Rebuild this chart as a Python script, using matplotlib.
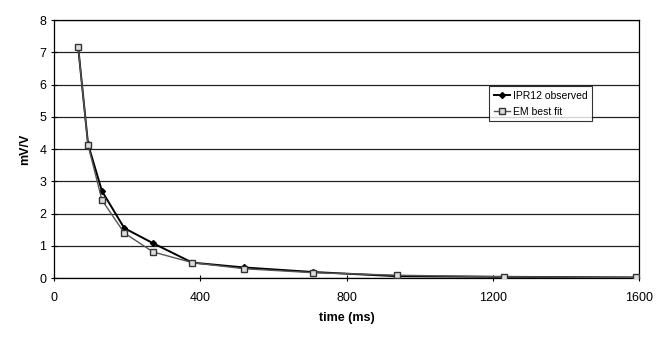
import matplotlib.pyplot as plt

plt.rcParams['font.family'] = ['Liberation Sans', 'DejaVu Sans']

# values
time_ms = [66, 93, 131, 192, 271, 378, 520, 707, 937, 1230, 1592]
observed = [7.16, 4.15, 2.70, 1.55, 1.08, 0.48, 0.33, 0.19, 0.06, 0.04, 0.02]
best_fit = [7.16, 4.12, 2.42, 1.40, 0.81, 0.48, 0.29, 0.17, 0.09, 0.04, 0.02]

fig = plt.figure(figsize=(6.59, 3.4), dpi=100)
ax = fig.add_axes([0.082, 0.182, 0.888, 0.759])

ax.plot(time_ms, observed, color='black', lw=1.4, marker='D', ms=3,
        mfc='black', mec='black', label='IPR12 observed', zorder=3)
ax.plot(time_ms, best_fit, color='#555555', lw=1.0, marker='s', ms=4,
        mfc='#dddddd', mec='#333333', label='EM best fit', zorder=4)

ax.set_xlim(0, 1600)
ax.set_ylim(0, 8)
ax.set_xticks([0, 400, 800, 1200, 1600])
ax.set_yticks(range(0, 9))
ax.grid(axis='y', color='#222222', lw=0.9)
ax.set_axisbelow(True)
ax.tick_params(direction='inout', length=4, labelsize=9, colors='black')
ax.tick_params(axis='x', pad=8)
for s in ax.spines.values():
    s.set_color('black')
    s.set_linewidth(0.9)

ax.set_xlabel('time (ms)', fontsize=9, fontweight='bold', labelpad=6)
ax.set_ylabel('mV/V', fontsize=9, fontweight='bold', labelpad=6)

leg = ax.legend(loc='upper left', bbox_to_anchor=(0.744, 0.745), fontsize=7.5,
                frameon=True, fancybox=False, edgecolor='black',
                handlelength=1.5, borderpad=0.45, labelspacing=0.6,
                handletextpad=0.3, borderaxespad=0)
leg.get_frame().set_linewidth(0.8)

fig.savefig('out.png', dpi=100)
